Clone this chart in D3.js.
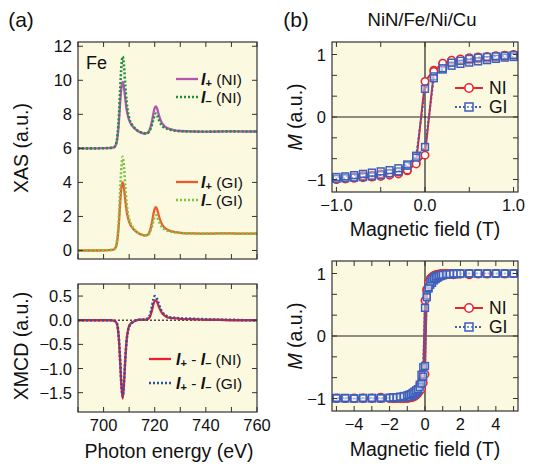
<!DOCTYPE html>
<html><head><meta charset="utf-8">
<script src="https://cdn.jsdelivr.net/npm/d3@7"></script>
<style>body{margin:0;background:#fff}svg{display:block;font-family:"Liberation Sans",Arial,Helvetica,sans-serif}</style>
</head><body><svg id="c" width="537" height="472"></svg>
<script>
// ---------- data ----------
const energy = [690,695,700,702,703,704,704.5,705,705.5,706,706.5,707,707.5,708,708.5,709,709.5,710,711,712,713,714,715,716,717,718,719,719.5,720,720.5,721,721.5,722,723,724,725,726,728,730,735,740,745,750,755,760];
const iPlusNI  = [6,6,6.01,6.02,6.03,6.06,6.12,6.3,6.73,7.55,8.7,9.6,9.9,9.55,8.9,8.3,7.92,7.66,7.36,7.18,7.06,6.97,6.91,6.87,6.89,7.08,7.65,8.07,8.37,8.46,8.32,8.03,7.78,7.45,7.28,7.19,7.13,7.06,7.02,6.99,6.98,6.99,7.0,6.99,6.99];
const iMinusNI = [6,6,6.01,6.02,6.03,6.06,6.13,6.33,6.84,7.92,9.5,10.88,11.4,10.8,9.68,8.75,8.17,7.8,7.43,7.22,7.08,6.99,6.92,6.88,6.89,7.03,7.43,7.72,7.96,8.05,7.93,7.72,7.55,7.31,7.2,7.14,7.1,7.04,7.01,6.99,6.98,6.99,7.0,6.99,6.99];
const iPlusGI  = [0,0,0.01,0.02,0.03,0.06,0.12,0.3,0.75,1.6,2.8,3.75,4.0,3.65,2.95,2.35,1.95,1.68,1.38,1.2,1.08,0.98,0.92,0.88,0.9,1.1,1.7,2.15,2.45,2.55,2.4,2.1,1.85,1.5,1.32,1.22,1.15,1.08,1.04,1.0,0.99,1.0,1.0,0.99,0.99];
const iMinusGI = [0,0,0.01,0.02,0.03,0.06,0.13,0.33,0.85,1.95,3.55,4.95,5.5,4.9,3.75,2.8,2.2,1.83,1.45,1.24,1.1,1.0,0.93,0.89,0.9,1.04,1.45,1.75,2.0,2.07,1.95,1.75,1.58,1.34,1.22,1.16,1.12,1.06,1.03,1.0,0.99,1.0,1.0,0.99,0.99];
const xmcdNI = [0,0,0,0,0,-0.01,-0.02,-0.05,-0.14,-0.4,-0.88,-1.38,-1.62,-1.3,-0.8,-0.42,-0.22,-0.12,-0.05,-0.02,0,0.01,0.01,0.01,0.02,0.06,0.22,0.33,0.4,0.41,0.37,0.3,0.23,0.14,0.09,0.06,0.05,0.04,0.03,0.02,0.01,0.01,0,0,0];
const xmcdGI = [0,0,0,0,0,-0.01,-0.02,-0.04,-0.12,-0.38,-0.85,-1.35,-1.58,-1.28,-0.8,-0.44,-0.24,-0.13,-0.06,-0.02,0,0.01,0.01,0.02,0.03,0.09,0.3,0.43,0.5,0.49,0.43,0.35,0.27,0.17,0.11,0.08,0.06,0.05,0.04,0.03,0.02,0.01,0.01,0,0];

// hysteresis, low field (T)
const fieldLow = [-1.0,-0.9,-0.8,-0.7,-0.6,-0.5,-0.4,-0.3,-0.2,-0.1,0.0,0.1,0.2,0.3,0.4,0.5,0.6,0.7,0.8,0.9,1.0];
const niUpLow   = [-0.99,-0.97,-0.96,-0.94,-0.93,-0.91,-0.90,-0.88,-0.85,-0.75,-0.61,0.73,0.86,0.91,0.93,0.95,0.96,0.97,0.98,0.99,1.0];
const niDownLow = [-1.0,-0.99,-0.98,-0.97,-0.96,-0.95,-0.93,-0.91,-0.86,-0.73,0.57,0.75,0.85,0.88,0.90,0.91,0.93,0.94,0.96,0.97,0.99];
const giUpLow   = [-0.96,-0.95,-0.93,-0.91,-0.89,-0.87,-0.85,-0.82,-0.76,-0.65,-0.48,0.62,0.78,0.87,0.90,0.93,0.95,0.96,0.97,0.98,0.99];
const giDownLow = [-0.99,-0.98,-0.97,-0.96,-0.95,-0.93,-0.90,-0.87,-0.78,-0.62,0.45,0.65,0.76,0.82,0.85,0.87,0.89,0.91,0.93,0.95,0.96];

// hysteresis, high field (T)
const fieldHigh = [-5,-4.5,-4,-3.5,-3,-2.5,-2,-1.8,-1.6,-1.4,-1.2,-1.0,-0.9,-0.8,-0.7,-0.6,-0.5,-0.4,-0.3,-0.2,-0.1,0.0,0.1,0.2,0.3,0.4,0.5,0.6,0.7,0.8,0.9,1.0,1.2,1.4,1.6,1.8,2.0,2.5,3,3.5,4,4.5,5];
const niUpHigh   = [-0.99,-1.0,-0.99,-0.99,-0.99,-0.98,-0.99,-0.99,-0.99,-0.98,-0.98,-0.98,-0.97,-0.96,-0.94,-0.93,-0.91,-0.90,-0.88,-0.85,-0.75,-0.61,0.73,0.86,0.92,0.95,0.97,0.98,0.99,0.99,1.0,1.0,1.0,1.0,1.0,1.0,1.0,1.0,1.0,1.0,1.0,1.0,1.0];
const niDownHigh = [-1.0,-1.0,-1.0,-1.0,-1.0,-1.0,-1.0,-1.0,-1.0,-1.0,-1.0,-1.0,-0.99,-0.99,-0.98,-0.97,-0.95,-0.92,-0.86,-0.73,-0.61,0.57,0.75,0.85,0.88,0.91,0.93,0.94,0.96,0.97,0.98,0.99,0.99,0.99,0.98,0.99,0.99,0.98,0.99,0.99,1.0,0.99,1.0];
const giUpHigh   = [-0.99,-0.99,-1.0,-0.99,-0.99,-0.99,-0.99,-0.98,-0.98,-0.97,-0.96,-0.95,-0.94,-0.93,-0.91,-0.89,-0.87,-0.85,-0.82,-0.76,-0.65,-0.48,0.62,0.78,0.87,0.91,0.93,0.95,0.96,0.97,0.98,0.98,0.99,0.99,1.0,1.0,1.0,1.0,1.0,1.0,1.0,1.0,1.0];
const giDownHigh = [-1.0,-1.0,-1.0,-1.0,-1.0,-1.0,-0.99,-0.99,-0.99,-0.98,-0.98,-0.98,-0.97,-0.96,-0.95,-0.93,-0.91,-0.87,-0.78,-0.62,-0.5,0.45,0.65,0.76,0.82,0.85,0.89,0.91,0.93,0.95,0.96,0.97,0.98,0.99,0.99,0.99,1.0,1.0,1.0,1.0,1.0,1.0,1.0];

const xasYTicks = [0,2,4,6,8,10,12];
const xmcdYTicks = [-1.5,-1.0,-0.5,0.0,0.5];
const energyTicks = [700,720,740,760];
const lowFieldTicks = [-1.0,0.0,1.0];
const highFieldTicks = [-4,-2,0,2,4];
const mTicks = [-1,0,1];

// ---------- drawing ----------
const svg = d3.select("#c");
const BG = "#fcf9e1", FR = "#333";
const C = {pNI:"#b455b4", mNI:"#1f8f3f", pGI:"#f05a28", mGI:"#7dc242", xNI:"#e8212b", xGI:"#2e4fae", hNI:"#e8262a", hGI:"#3d5fba"};
const TF = 16.5;

function panel(box, xd, yd){
  const x = d3.scaleLinear().domain(xd).range([box.x0, box.x1]);
  const y = d3.scaleLinear().domain(yd).range([box.y1, box.y0]);
  const g = svg.append("g");
  g.append("rect").attr("x",box.x0).attr("y",box.y0).attr("width",box.x1-box.x0).attr("height",box.y1-box.y0).attr("fill",BG);
  const clipId = "clip"+Math.round(box.x0)+"_"+Math.round(box.y0);
  svg.append("clipPath").attr("id",clipId).append("rect").attr("x",box.x0).attr("y",box.y0).attr("width",box.x1-box.x0).attr("height",box.y1-box.y0);
  const inner = svg.append("g").attr("clip-path","url(#"+clipId+")");
  return {x, y, g, inner, box};
}
function frame(p, xTicks, yTicks, xLabels, yLabels, xFmt, yFmt){
  const {x,y,box} = p;
  const g = svg.append("g");
  const tl = 5;
  xTicks.forEach(v=>{
    const px = x(v);
    g.append("line").attr("x1",px).attr("x2",px).attr("y1",box.y1).attr("y2",box.y1-tl).attr("stroke",FR).attr("stroke-width",1);
    g.append("line").attr("x1",px).attr("x2",px).attr("y1",box.y0).attr("y2",box.y0+tl).attr("stroke",FR).attr("stroke-width",1);
  });
  yTicks.forEach(v=>{
    const py = y(v);
    g.append("line").attr("x1",box.x0).attr("x2",box.x0+tl).attr("y1",py).attr("y2",py).attr("stroke",FR).attr("stroke-width",1);
    g.append("line").attr("x1",box.x1).attr("x2",box.x1-tl).attr("y1",py).attr("y2",py).attr("stroke",FR).attr("stroke-width",1);
  });
  g.append("rect").attr("x",box.x0).attr("y",box.y0).attr("width",box.x1-box.x0).attr("height",box.y1-box.y0).attr("fill","none").attr("stroke",FR).attr("stroke-width",1.2);
  if(xLabels) xLabels.forEach(v=>{
    g.append("text").attr("x",x(v)).attr("y",box.y1+19).attr("text-anchor","middle").attr("font-size",TF).attr("fill","#111").text(xFmt(v));
  });
  if(yLabels) yLabels.forEach(v=>{
    g.append("text").attr("x",box.x0-6).attr("y",y(v)+6).attr("text-anchor","end").attr("font-size",TF).attr("fill","#111").text(yFmt(v));
  });
}
const minus = s => s.replace("-","\u2212");
function curve(p, xs, ys, color, dashed, w){
  const line = d3.line().x((d,i)=>p.x(xs[i])).y(d=>p.y(d)).curve(d3.curveMonotoneX);
  p.inner.append("path").attr("d",line(ys)).attr("fill","none").attr("stroke",color)
    .attr("stroke-width",w||2).attr("stroke-dasharray",dashed?"2,2":null).attr("stroke-linejoin","round");
}

// Panel a top: XAS
const A1 = panel({x0:78,x1:257,y0:42,y1:259},[690,760],[-0.5,12.25]);
curve(A1, energy, iPlusNI, C.pNI, false, 2.3);
curve(A1, energy, iMinusNI, C.mNI, true, 2.6);
curve(A1, energy, iPlusGI, C.pGI, false, 2.3);
curve(A1, energy, iMinusGI, C.mGI, true, 2.6);
frame(A1, d3.range(690,761,10), xasYTicks, null, xasYTicks, null, d=>d3.format("d")(d));

// Panel a bottom: XMCD
const A2 = panel({x0:78,x1:257,y0:284,y1:412},[690,760],[-1.9,0.75]);
A2.inner.append("line").attr("x1",A2.x(690)).attr("x2",A2.x(760)).attr("y1",A2.y(0)).attr("y2",A2.y(0)).attr("stroke","#444").attr("stroke-width",1.3).attr("stroke-dasharray","2,2");
curve(A2, energy, xmcdNI, C.xNI, false, 2.3);
curve(A2, energy, xmcdGI, C.xGI, true, 2.6);
frame(A2, d3.range(690,761,10), xmcdYTicks, energyTicks, xmcdYTicks, d=>d3.format("d")(d), d=>minus(d3.format(".1f")(d)));

// Panel b: hysteresis
function hyst(p, H, up, down, color, marker, dashed){
  const pts = [];
  for(let i=H.length-1;i>=0;i--) pts.push([H[i],down[i]]);
  for(let i=0;i<H.length;i++) pts.push([H[i],up[i]]);
  const line = d3.line().x(d=>p.x(d[0])).y(d=>p.y(d[1]));
  p.inner.append("path").attr("d",line(pts)).attr("fill","none").attr("stroke",color).attr("stroke-width",2).attr("stroke-dasharray",dashed?"2,2":null);
  const mg = p.inner.append("g");
  pts.forEach(d=>{
    if(marker==="circle") mg.append("circle").attr("cx",p.x(d[0])).attr("cy",p.y(d[1])).attr("r",3.7).attr("fill","#fff").attr("stroke",color).attr("stroke-width",1.6);
    else mg.append("rect").attr("x",p.x(d[0])-3.4).attr("y",p.y(d[1])-3.4).attr("width",6.8).attr("height",6.8).attr("fill","#fff").attr("fill-opacity",0.35).attr("stroke",color).attr("stroke-width",1.5);
  });
}
function axesLines(p, xd){
  p.inner.append("line").attr("x1",p.x(xd[0])).attr("x2",p.x(xd[1])).attr("y1",p.y(0)).attr("y2",p.y(0)).attr("stroke","#222").attr("stroke-width",1.2);
  p.inner.append("line").attr("x1",p.x(0)).attr("x2",p.x(0)).attr("y1",p.box.y0).attr("y2",p.box.y1).attr("stroke","#222").attr("stroke-width",1.2);
}
const B1 = panel({x0:332,x1:518,y0:42,y1:192},[-1.05,1.05],[-1.2,1.2]);
axesLines(B1,[-1.05,1.05]);
hyst(B1, fieldLow, niUpLow, niDownLow, C.hNI, "circle", false);
hyst(B1, fieldLow, giUpLow, giDownLow, C.hGI, "square", true);
const mMinor = [-1,-2/3,-1/3,0,1/3,2/3,1];
frame(B1, d3.range(-1,1.01,0.5), mMinor, lowFieldTicks, mTicks, d=>minus(d3.format(".1f")(d)), d=>minus(d3.format("d")(d)));

const B2 = panel({x0:332,x1:518,y0:261,y1:411},[-5.25,5.25],[-1.2,1.2]);
axesLines(B2,[-5.25,5.25]);
hyst(B2, fieldHigh, niUpHigh, niDownHigh, C.hNI, "circle", false);
hyst(B2, fieldHigh, giUpHigh, giDownHigh, C.hGI, "square", true);
frame(B2, d3.range(-5,5.1,1), mMinor, highFieldTicks, mTicks, d=>minus(d3.format("d")(d)), d=>minus(d3.format("d")(d)));

// ---------- text ----------
function t(x,y,s,opt){
  opt=opt||{};
  const e = svg.append("text").attr("x",x).attr("y",y).attr("font-size",opt.size||18).attr("fill","#111").attr("text-anchor",opt.anchor||"start");
  if(opt.rotate) e.attr("transform",`rotate(-90,${x},${y})`);
  e.text(s); return e;
}
t(21,27,"(a)",{size:21,anchor:"middle"});
t(296,27,"(b)",{size:21,anchor:"middle"});
t(422,26,"NiN/Fe/Ni/Cu",{size:18.5,anchor:"middle"});
t(86,69,"Fe",{size:18});
t(28,148,"XAS (a.u.)",{size:19.5,anchor:"middle",rotate:true});
t(28,346,"XMCD (a.u.)",{size:19.5,anchor:"middle",rotate:true});
t(169,458,"Photon energy (eV)",{size:19.5,anchor:"middle"});
t(425,236,"Magnetic field (T)",{size:19.5,anchor:"middle"});
t(425,456,"Magnetic field (T)",{size:19.5,anchor:"middle"});
function mLabel(x,y){
  const e = svg.append("text").attr("transform",`rotate(-90,${x},${y})`).attr("x",x).attr("y",y).attr("text-anchor","middle").attr("font-size",19.5).attr("fill","#111");
  e.append("tspan").attr("font-style","italic").text("M");
  e.append("tspan").text(" (a.u.)");
}
mLabel(302,117);
mLabel(302,336);

// legend helpers
function iLabel(x,y,parts){
  const e = svg.append("text").attr("x",x).attr("y",y).attr("font-size",15.5).attr("fill","#111");
  parts.forEach(p=>{
    if(p.t==="I") e.append("tspan").attr("font-style","italic").attr("font-weight","bold").attr("font-size",16).text("I");
    else if(p.t==="sub") e.append("tspan").attr("font-size",11).attr("font-weight","bold").attr("dy",2.5).text(p.s);
    else e.append("tspan").attr("dy",p.dy||0).text(p.s);
  });
}
function legLine(x1,x2,y,color,dashed,w){
  svg.append("line").attr("x1",x1).attr("x2",x2).attr("y1",y).attr("y2",y).attr("stroke",color).attr("stroke-width",w||2).attr("stroke-dasharray",dashed?"2,2":null);
}
legLine(176,198,79,C.pNI,false,2.3); iLabel(201,84.5,[{t:"I"},{t:"sub",s:"+"},{s:" (NI)",dy:-2.5}]);
legLine(176,198,97,C.mNI,true,2.6); iLabel(201,102.5,[{t:"I"},{t:"sub",s:"\u2013"},{s:" (NI)",dy:-2.5}]);
legLine(176,198,182,C.pGI,false,2.3); iLabel(201,187.5,[{t:"I"},{t:"sub",s:"+"},{s:" (GI)",dy:-2.5}]);
legLine(176,198,200,C.mGI,true,2.6); iLabel(201,205.5,[{t:"I"},{t:"sub",s:"\u2013"},{s:" (GI)",dy:-2.5}]);

legLine(149,171,359,C.xNI,false,2.3); iLabel(176,364.5,[{t:"I"},{t:"sub",s:"+"},{s:" - ",dy:-2.5},{t:"I"},{t:"sub",s:"\u2013"},{s:" (NI)",dy:-2.5}]);
legLine(149,171,383,C.xGI,true,2.6); iLabel(176,388.5,[{t:"I"},{t:"sub",s:"+"},{s:" - ",dy:-2.5},{t:"I"},{t:"sub",s:"\u2013"},{s:" (GI)",dy:-2.5}]);

function hLeg(y, color, marker, dashed, label){
  legLine(455,483,y,color,dashed,2);
  if(marker==="circle") svg.append("circle").attr("cx",469).attr("cy",y).attr("r",4.2).attr("fill","#fff").attr("stroke",color).attr("stroke-width",1.6);
  else svg.append("rect").attr("x",465).attr("y",y-4).attr("width",8).attr("height",8).attr("fill","#fff").attr("fill-opacity",0.35).attr("stroke",color).attr("stroke-width",1.5);
  t(489,y+6,label,{size:17.5});
}
hLeg(88,C.hNI,"circle",false,"NI");
hLeg(107,C.hGI,"square",true,"GI");
hLeg(308,C.hNI,"circle",false,"NI");
hLeg(327,C.hGI,"square",true,"GI");
</script></body></html>
